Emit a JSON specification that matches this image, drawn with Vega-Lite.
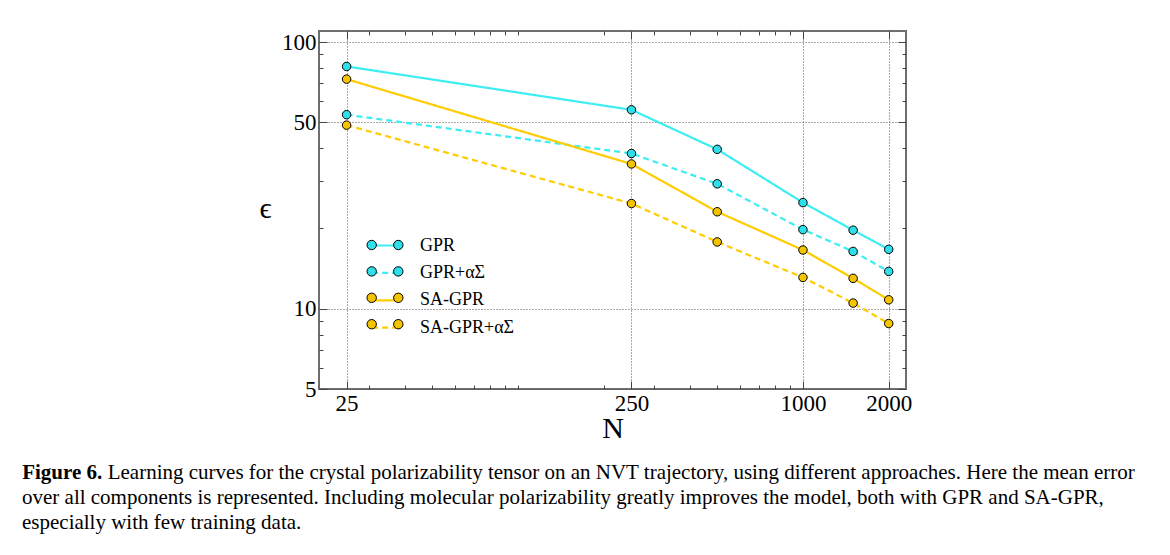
{
  "$schema": "https://vega.github.io/schema/vega-lite/v6.json",
  "width": 587,
  "height": 358,
  "autosize": {"type": "none"},
  "padding": {"left": 319, "top": 31, "right": 264, "bottom": 166},
  "background": "white",
  "config": {
    "font": "Liberation Serif",
    "view": {"stroke": "#6e6e6e", "strokeWidth": 2},
    "axis": {"domain": false, "labelFont": "Liberation Serif", "titleFont": "Liberation Serif", "labelColor": "#000", "titleColor": "#000", "tickColor": "#444", "titleFontWeight": "normal"}
  },
  "title": {
    "text": [
      "over all components is represented. Including molecular polarizability greatly improves the model, both with GPR and SA-GPR,",
      "especially with few training data."
    ],
    "orient": "bottom",
    "anchor": "start",
    "frame": "group",
    "dx": -297,
    "offset": 5,
    "font": "Liberation Serif",
    "fontSize": 21,
    "fontWeight": "normal",
    "lineHeight": 25,
    "color": "#000"
  },
  "data": {
    "values": [
      {"N": 25, "eps": 81.0, "series": "GPR", "model": "GPR"},
      {"N": 250, "eps": 55.7, "series": "GPR", "model": "GPR"},
      {"N": 500, "eps": 39.6, "series": "GPR", "model": "GPR"},
      {"N": 1000, "eps": 25.0, "series": "GPR", "model": "GPR"},
      {"N": 1500, "eps": 19.7, "series": "GPR", "model": "GPR"},
      {"N": 2000, "eps": 16.7, "series": "GPR", "model": "GPR"},
      {"N": 25, "eps": 53.4, "series": "GPR+αΣ", "model": "GPR+αΣ"},
      {"N": 250, "eps": 38.2, "series": "GPR+αΣ", "model": "GPR+αΣ"},
      {"N": 500, "eps": 29.4, "series": "GPR+αΣ", "model": "GPR+αΣ"},
      {"N": 1000, "eps": 19.8, "series": "GPR+αΣ", "model": "GPR+αΣ"},
      {"N": 1500, "eps": 16.4, "series": "GPR+αΣ", "model": "GPR+αΣ"},
      {"N": 2000, "eps": 13.8, "series": "GPR+αΣ", "model": "GPR+αΣ"},
      {"N": 25, "eps": 72.6, "series": "SA-GPR", "model": "SA-GPR"},
      {"N": 250, "eps": 34.9, "series": "SA-GPR", "model": "SA-GPR"},
      {"N": 500, "eps": 23.1, "series": "SA-GPR", "model": "SA-GPR"},
      {"N": 1000, "eps": 16.6, "series": "SA-GPR", "model": "SA-GPR"},
      {"N": 1500, "eps": 13.0, "series": "SA-GPR", "model": "SA-GPR"},
      {"N": 2000, "eps": 10.8, "series": "SA-GPR", "model": "SA-GPR"},
      {"N": 25, "eps": 48.8, "series": "SA-GPR+αΣ", "model": "SA-GPR+αΣ"},
      {"N": 250, "eps": 24.8, "series": "SA-GPR+αΣ", "model": "SA-GPR+αΣ"},
      {"N": 500, "eps": 17.8, "series": "SA-GPR+αΣ", "model": "SA-GPR+αΣ"},
      {"N": 1000, "eps": 13.1, "series": "SA-GPR+αΣ", "model": "SA-GPR+αΣ"},
      {"N": 1500, "eps": 10.5, "series": "SA-GPR+αΣ", "model": "SA-GPR+αΣ"},
      {"N": 2000, "eps": 8.8, "series": "SA-GPR+αΣ", "model": "SA-GPR+αΣ"}
    ]
  },
  "resolve": {"axis": {"x": "independent", "y": "independent"}},
  "layer": [
    {
      "mark": {"type": "line", "strokeWidth": 2.2},
      "encoding": {
        "x": {
          "field": "N", "type": "quantitative",
          "scale": {"type": "log", "domain": [20, 2300], "nice": false},
          "axis": {
            "orient": "bottom",
            "values": [25, 30, 40, 50, 60, 70, 80, 90, 100, 200, 250, 300, 400, 500, 600, 700, 800, 900, 1000, 2000],
            "labelExpr": "indexof([25,250,1000,2000], datum.value) >= 0 ? datum.value : ''",
            "labelOverlap": false,
            "labelFlush": false,
            "labelFontSize": 23,
            "labelPadding": 11,
            "grid": true,
            "gridColor": "#555",
            "gridDash": [1, 2],
            "gridWidth": 1,
            "gridOpacity": {"condition": {"test": "indexof([25,250,1000,2000], datum.value) >= 0", "value": 1}, "value": 0},
            "tickSize": {"condition": {"test": "indexof([25,250,1000,2000], datum.value) >= 0", "value": -8}, "value": -4},
            "tickWidth": 1,
            "title": "N",
            "titleFontSize": 30,
            "titleAlign": "center",
            "titleBaseline": "alphabetic",
            "titleY": 48
          }
        },
        "y": {
          "field": "eps", "type": "quantitative",
          "scale": {"type": "log", "domain": [5, 110], "nice": false},
          "axis": {
            "orient": "left",
            "values": [5, 6, 7, 8, 9, 10, 20, 30, 40, 50, 60, 70, 80, 90, 100],
            "labelExpr": "indexof([5,10,50,100], datum.value) >= 0 ? datum.value : ''",
            "labelOverlap": false,
            "labelFlush": false,
            "labelFontSize": 23,
            "labelPadding": 11,
            "grid": true,
            "gridColor": "#555",
            "gridDash": [1, 2],
            "gridWidth": 1,
            "gridOpacity": {"condition": {"test": "indexof([5,10,50,100], datum.value) >= 0", "value": 1}, "value": 0},
            "tickSize": {"condition": {"test": "indexof([5,10,50,100], datum.value) >= 0", "value": -8}, "value": -4},
            "tickWidth": 1,
            "title": "ϵ",
            "titleFontSize": 30,
            "titleAngle": 0,
            "titleAlign": "center",
            "titleBaseline": "middle",
            "titleX": -54,
            "titleY": 177
          }
        },
        "stroke": {
          "field": "series", "type": "nominal",
          "scale": {"domain": ["GPR", "GPR+αΣ", "SA-GPR", "SA-GPR+αΣ"], "range": ["#3CEEF2", "#3CEEF2", "#FFCC00", "#FFCC00"]},
          "legend": {
            "orient": "none", "legendX": 52, "legendY": 200, "title": null,
            "padding": 0, "rowPadding": 3.4,
            "symbolType": "stroke", "symbolSize": 708, "symbolStrokeWidth": 2.2,
            "labelFont": "Liberation Serif", "labelFontSize": 18, "labelOffset": 20, "labelColor": "#000"
          }
        },
        "strokeDash": {
          "field": "series", "type": "nominal",
          "scale": {"domain": ["GPR", "GPR+αΣ", "SA-GPR", "SA-GPR+αΣ"], "range": [[1, 0], [6, 4], [1, 0], [6, 4]]},
          "legend": {
            "orient": "none", "legendX": 52, "legendY": 200, "title": null,
            "padding": 0, "rowPadding": 3.4,
            "symbolType": "stroke", "symbolSize": 708, "symbolStrokeWidth": 2.2,
            "labelFont": "Liberation Serif", "labelFontSize": 18, "labelOffset": 20, "labelColor": "#000"
          }
        }
      }
    },
    {
      "mark": {"type": "point", "shape": "circle", "filled": true, "size": 72, "stroke": "#000", "strokeWidth": 1, "opacity": 1},
      "encoding": {
        "x": {
          "field": "N", "type": "quantitative",
          "axis": {
            "orient": "top",
            "values": [25, 30, 40, 50, 60, 70, 80, 90, 100, 200, 250, 300, 400, 500, 600, 700, 800, 900, 1000, 2000],
            "labels": false, "grid": false,
            "tickSize": {"condition": {"test": "indexof([25,250,1000,2000], datum.value) >= 0", "value": -8}, "value": -4},
            "tickWidth": 1,
            "title": "Figure 6.",
            "titleFont": "Liberation Serif",
            "titleFontSize": 21,
            "titleFontWeight": "bold",
            "titleAngle": 0,
            "titleAlign": "left",
            "titleBaseline": "alphabetic",
            "titleX": -297.3,
            "titleY": 447
          }
        },
        "y": {
          "field": "eps", "type": "quantitative",
          "axis": {
            "orient": "right",
            "values": [5, 6, 7, 8, 9, 10, 20, 30, 40, 50, 60, 70, 80, 90, 100],
            "labels": false, "grid": false,
            "tickSize": {"condition": {"test": "indexof([5,10,50,100], datum.value) >= 0", "value": -8}, "value": -4},
            "tickWidth": 1,
            "title": "Learning curves for the crystal polarizability tensor on an NVT trajectory, using different approaches. Here the mean error",
            "titleFont": "Liberation Serif",
            "titleFontSize": 21,
            "titleFontWeight": "normal",
            "titleAngle": 0,
            "titleAlign": "left",
            "titleBaseline": "alphabetic",
            "titleLimit": 1200,
            "titleX": -798.8,
            "titleY": 447
          }
        },
        "fill": {
          "field": "model", "type": "nominal",
          "scale": {"range": ["#2FE0EA", "#2FE0EA", "#F5C400", "#F5C400"]},
          "legend": {
            "orient": "none", "legendX": 52, "legendY": 200, "title": null,
            "padding": 0, "rowPadding": 3.4,
            "symbolType": "M-1.353,0A0.353,0.353,0,1,0,-0.647,0A0.353,0.353,0,1,0,-1.353,0ZM0.647,0A0.353,0.353,0,1,0,1.353,0A0.353,0.353,0,1,0,0.647,0Z",
            "symbolSize": 708, "symbolStrokeColor": "#000", "symbolStrokeWidth": 1, "symbolOpacity": 1,
            "labelFont": "Liberation Serif", "labelFontSize": 18, "labelOffset": 20, "labelExpr": "''"
          }
        }
      }
    }
  ]
}
